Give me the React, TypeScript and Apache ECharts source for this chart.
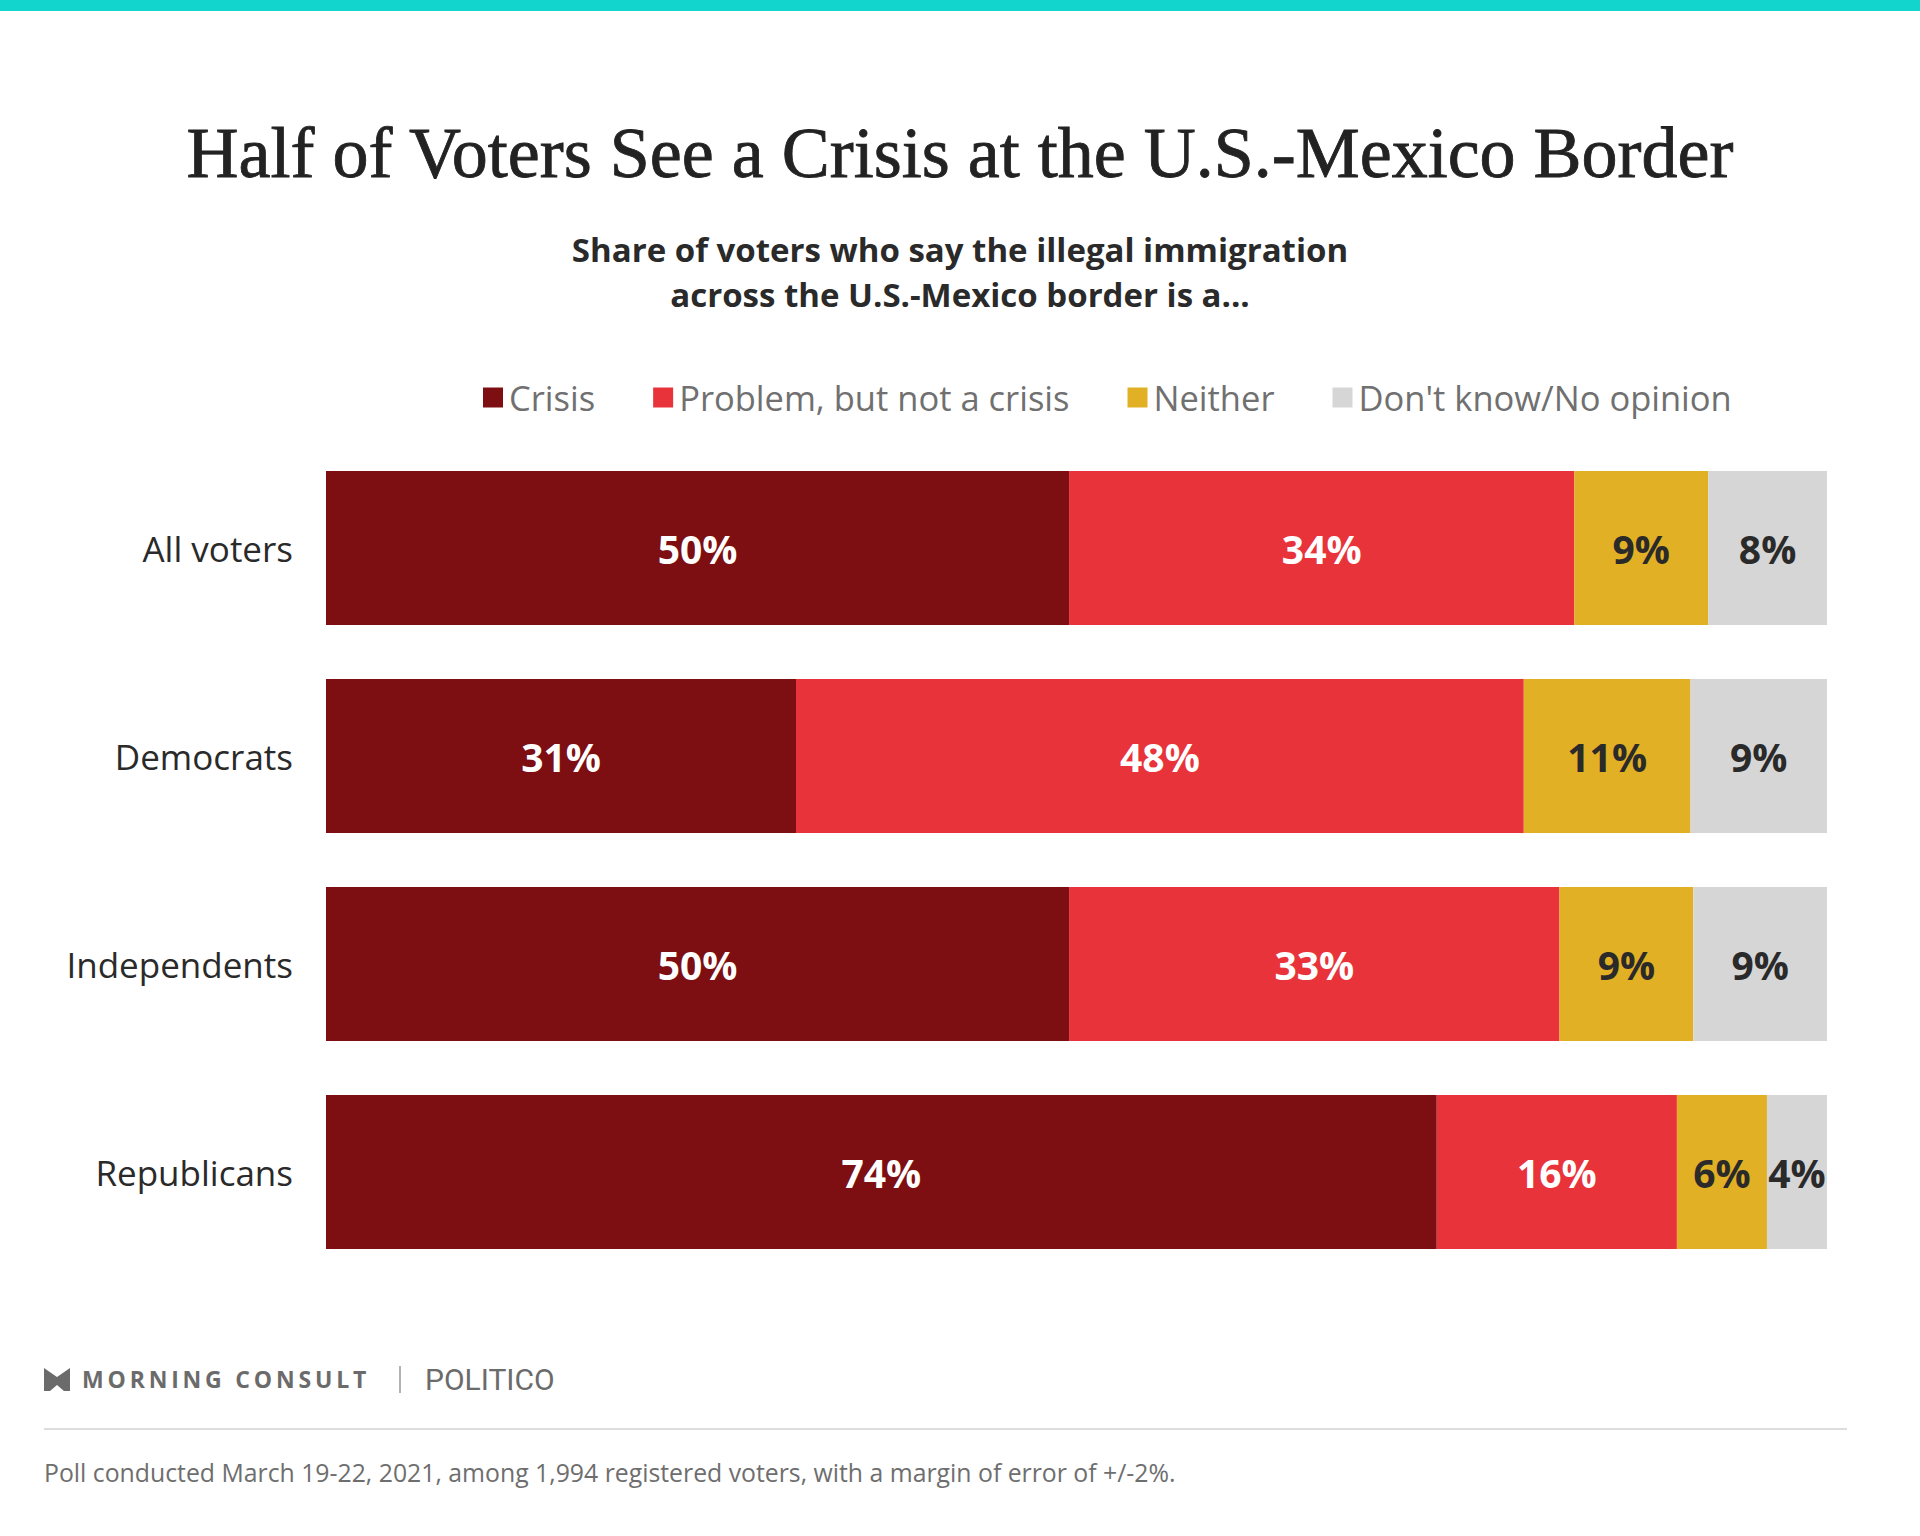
import React, { useEffect, useRef } from "react";
import * as echarts from "echarts";

const categories = ["All voters", "Democrats", "Independents", "Republicans"];
const seriesNames = ["Crisis", "Problem, but not a crisis", "Neither", "Don't know/No opinion"];
const crisis = [50, 31, 50, 74];
const problem = [34, 48, 33, 16];
const neither = [9, 11, 9, 6];
const dontKnow = [8, 9, 9, 4];
const colors = ["#7D0E11", "#E8333A", "#E2B024", "#D6D6D6"];
const labelColors = ["#FFFFFF", "#FFFFFF", "#2A2A2A", "#2A2A2A"];

const TITLE = "Half of Voters See a Crisis at the U.S.-Mexico Border";
const SUB1 = "Share of voters who say the illegal immigration";
const SUB2 = "across the U.S.-Mexico border is a...";
const NOTE = "Poll conducted March 19-22, 2021, among 1,994 registered voters, with a margin of error of +/-2%.";

const FONT = "'Open Sans', Lato, sans-serif";

echarts.graphic.registerShape(
  "mclogo",
  echarts.graphic.extendPath("M0 0 L13 9 L26 0 L26 23 L20 23 L13 17 L6 23 L0 23 Z", {})
);

export default function App() {
  const ref = useRef<HTMLDivElement>(null);
  useEffect(() => {
    document.body.style.margin = "0";
    const chart = echarts.init(ref.current!, null, { renderer: "svg" });
    const all = [crisis, problem, neither, dontKnow];
    const sums = categories.map((_, i) => all.reduce((s, arr) => s + arr[i], 0));
    const series = all.map((arr, k) => ({
      name: seriesNames[k],
      type: "bar",
      stack: "total",
      barWidth: 154,
      itemStyle: { color: colors[k] },
      data: arr.map((v, i) => ({ value: (v / sums[i]) * 100, raw: v })),
      label: {
        show: true,
        position: "inside",
        color: labelColors[k],
        fontFamily: FONT,
        fontWeight: "bold",
        fontSize: 39,
        formatter: (p: any) => p.data.raw + "%",
      },
    }));
    const sep = "\u2009";
    chart.setOption({
      animation: false,
      backgroundColor: "#ffffff",
      grid: { left: 326, right: 93, top: 444, height: 832 },
      xAxis: { type: "value", min: 0, max: 100, show: false },
      yAxis: {
        type: "category",
        data: categories,
        inverse: true,
        axisLine: { show: false },
        axisTick: { show: false },
        axisLabel: { color: "#2A2A2A", fontSize: 35, fontFamily: FONT, margin: 33 },
      },
      legend: {
        left: 478,
        top: 375,
        icon: "rect",
        itemWidth: 20,
        itemHeight: 20,
        itemGap: 58,
        textStyle: { color: "#707070", fontSize: 34.5, fontFamily: FONT, padding: [0, 0, 0, 1] },
        data: seriesNames,
      },
      series,
      graphic: [
        { type: "rect", shape: { x: 0, y: 0, width: 1920, height: 11 }, style: { fill: "#12D6CD" } },
        {
          type: "text",
          x: 960,
          y: 153,
          style: {
            text: TITLE,
            font: "72px 'Liberation Serif', serif",
            fill: "#222222",
            textAlign: "center",
            textVerticalAlign: "middle",
            stroke: "#222222",
            lineWidth: 0.8,
          },
        },
        {
          type: "text",
          x: 960,
          y: 249,
          style: {
            text: SUB1,
            font: "bold 33px " + FONT,
            fill: "#2A2A2A",
            textAlign: "center",
            textVerticalAlign: "middle",
          },
        },
        {
          type: "text",
          x: 960,
          y: 294,
          style: {
            text: SUB2,
            font: "bold 33px " + FONT,
            fill: "#2A2A2A",
            textAlign: "center",
            textVerticalAlign: "middle",
          },
        },
        { type: "mclogo", x: 44, y: 1368, scaleX: 1, scaleY: 1, style: { fill: "#6B6B6B" } },
        {
          type: "text",
          x: 82,
          y: 1379,
          style: {
            text: "MORNING CONSULT".split("").join(sep),
            font: "bold 23px " + FONT,
            fill: "#6B6B6B",
            textAlign: "left",
            textVerticalAlign: "middle",
          },
        },
        { type: "line", shape: { x1: 400, y1: 1366, x2: 400, y2: 1393 }, style: { stroke: "#9A9A9A", lineWidth: 1.5 } },
        {
          type: "text",
          x: 425,
          y: 1379,
          style: {
            text: "POLITICO",
            font: "30px Roboto, sans-serif",
            fill: "#6B6B6B",
            textAlign: "left",
            textVerticalAlign: "middle",
          },
        },
        { type: "line", shape: { x1: 44, y1: 1429, x2: 1847, y2: 1429 }, style: { stroke: "#DDDDDD", lineWidth: 2 } },
        {
          type: "text",
          x: 44,
          y: 1472,
          style: {
            text: NOTE,
            font: "24.8px " + FONT,
            fill: "#6E6E6E",
            textAlign: "left",
            textVerticalAlign: "middle",
          },
        },
      ],
    });
    return () => chart.dispose();
  }, []);
  return <div ref={ref} style={{ position: "absolute", left: 0, top: 0, width: 1920, height: 1536 }} />;
}
